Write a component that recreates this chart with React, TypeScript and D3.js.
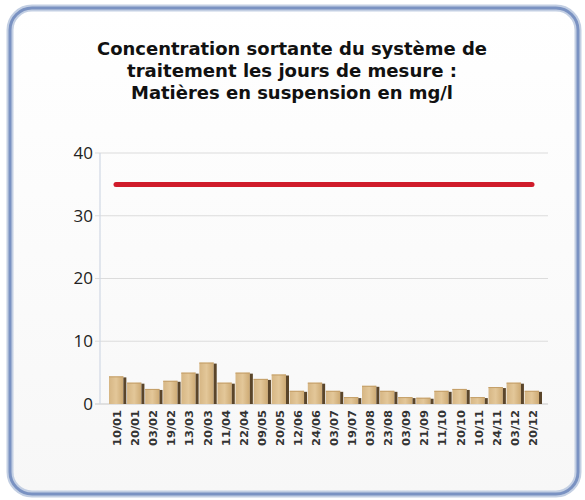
import React from "react";
import * as d3 from "d3";

const categories = ["10/01","20/01","03/02","19/02","13/03","20/03","11/04","22/04","09/05","20/05","12/06","24/06","03/07","19/07","03/08","23/08","03/09","21/09","11/10","20/10","10/11","24/11","03/12","20/12"];
const values = [4.4,3.4,2.4,3.7,5.0,6.6,3.4,5.0,4.0,4.7,2.1,3.4,2.1,1.1,2.9,2.1,1.1,1.0,2.1,2.4,1.1,2.7,3.4,2.1];
const limitValue = 35;
const yTicks = [0,10,20,30,40];
const titleLines = ["Concentration sortante du système de","traitement les jours de mesure :","Matières en suspension en mg/l"];

export default function App() {
  const W = 585, H = 500;
  const x = d3.scaleBand<string>().domain(categories).range([109, 542]).paddingInner(0.04).paddingOuter(0);
  const y = d3.scaleLinear().domain([0, 40]).range([404, 153]);
  const side = 3;
  const first = x(categories[0])!;
  const last = x(categories[categories.length - 1])! + x.bandwidth();
  return (
    <svg width={W} height={H} style={{ position: "absolute", left: 0, top: 0 }}>
      <defs>
        <linearGradient id="bg" x1="0" y1="0" x2="0" y2="1">
          <stop offset="0" stopColor="#ffffff" />
          <stop offset="1" stopColor="#f7f7f7" />
        </linearGradient>
        <linearGradient id="front" x1="0" y1="0" x2="1" y2="0">
          <stop offset="0" stopColor="#d6b684" />
          <stop offset="0.5" stopColor="#e3c799" />
          <stop offset="1" stopColor="#cdaa74" />
        </linearGradient>
      </defs>
      <rect x={0} y={0} width={W} height={H} fill="#ffffff" />
      <rect x={10} y={8} width={568} height={486} rx={22} ry={22} fill="url(#bg)" stroke="#c3cfe3" strokeWidth={7} />
      <rect x={10} y={8} width={568} height={486} rx={22} ry={22} fill="none" stroke="#7a92c2" strokeWidth={3} />
      {titleLines.map((t, i) => (
        <text key={i} x={292} y={55 + i * 22} textAnchor="middle" fontFamily="'DejaVu Sans Condensed', 'DejaVu Sans', sans-serif" fontWeight="bold" fontSize={17} fill="#111" textLength={[390, 330, 322][i]} lengthAdjust="spacingAndGlyphs">{t}</text>
      ))}
      {yTicks.map(t => (
        <g key={t}>
          <line x1={95} x2={548} y1={y(t)} y2={y(t)} stroke={t === 0 ? "#c8c8c8" : "#dcdcdc"} strokeWidth={1.2} />
          <text x={93} y={y(t)} dy="0.35em" textAnchor="end" fontFamily="'Open Sans', sans-serif" fontSize={17} fill="#222">{t}</text>
        </g>
      ))}
      <line x1={100} x2={100} y1={153} y2={404} stroke="#d0d8e4" strokeWidth={1.2} />
      {categories.map((c, i) => {
        const bx = x(c)!;
        const bw = x.bandwidth();
        const top = y(values[i]);
        return (
          <g key={c}>
            <rect x={bx} y={top} width={bw - side} height={404 - top} fill="url(#front)" />
            <rect x={bx + bw - side} y={top + 1} width={side} height={404 - top - 1} fill="#5a452a" />
            <line x1={bx} x2={bx + bw - side} y1={top + 0.5} y2={top + 0.5} stroke="#c49f68" strokeWidth={1} />
          </g>
        );
      })}
      <line x1={first + 7} x2={last - 10} y1={y(limitValue)} y2={y(limitValue)} stroke="#d01c2b" strokeWidth={5} strokeLinecap="round" />
      {categories.map(c => {
        const cx = x(c)! + x.bandwidth() / 2;
        return (
          <text key={c} transform={`translate(${cx + 3.5},410) rotate(-90)`} textAnchor="end" fontFamily="'DejaVu Sans Condensed', 'DejaVu Sans', sans-serif" fontWeight="bold" fontSize={10} fill="#333" textLength={36} lengthAdjust="spacingAndGlyphs">{c}</text>
        );
      })}
    </svg>
  );
}
